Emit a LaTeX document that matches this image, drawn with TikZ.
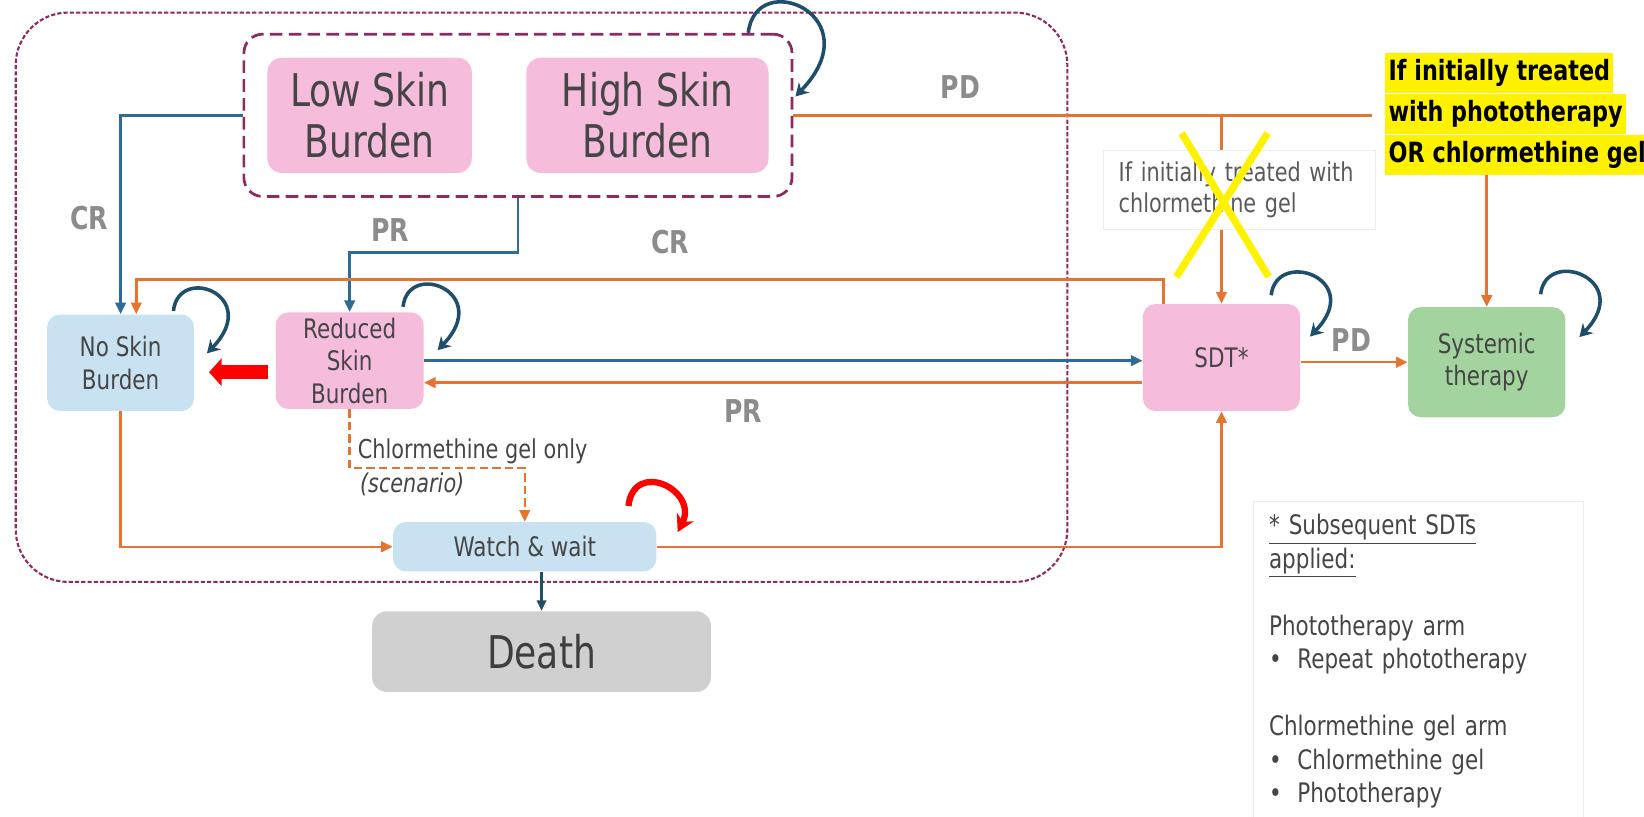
\documentclass[tikz,border=0pt]{standalone}
\usepackage{fontspec}
\setmainfont{DejaVu Sans}[FakeStretch = 0.8]
\usepackage{tikz}
\usetikzlibrary{arrows.meta}
\usetikzlibrary{positioning, fit, calc}
\definecolor{burdenpink}{HTML}{F6BCDB}
\definecolor{noburdenblue}{HTML}{C9E2F1}
\definecolor{systemicgreen}{HTML}{A3D49F}
\definecolor{deathgrey}{HTML}{D0D0D0}
\definecolor{crblue}{HTML}{2D6B98}
\definecolor{loopblue}{HTML}{1F4E6B}
\definecolor{pdorange}{HTML}{E8732E}
\definecolor{boxtext}{HTML}{454545}
\definecolor{labelgrey}{HTML}{8C8C8C}
\definecolor{framemagenta}{HTML}{8E2A5F}
\definecolor{notegrey}{HTML}{5A5A5A}
\definecolor{faintline}{HTML}{EEEEEE}
\tikzset{
state box/.style = { rectangle, rounded corners = 6pt, text = boxtext, align = center, inner sep = 1pt, font = \fontsize{12.8pt}{15.5pt}\selectfont },
big state/.style = { state box, rounded corners = 7pt, font = \fontsize{21.5pt}{24.5pt}\selectfont },
flow/.style = { draw = pdorange, line width = 1.2pt, -{Triangle[length = 5.5pt, width = 5pt]} },
resp/.style = { draw = crblue, line width = 1.2pt, -{Triangle[length = 5.5pt, width = 5pt]} },
self loop/.style = { draw = loopblue, line width = 1.7pt, -{Stealth[length = 6pt, width = 7pt]} },
red loop/.style = { draw = red, line width = 3pt, -{Stealth[length = 8pt, width = 9pt]} },
red arrow/.style = { draw = red, line width = 6.5pt, -{Triangle[length = 6pt, width = 13pt]} },
death arrow/.style = { draw = loopblue, line width = 1pt, -{Triangle[length = 5pt, width = 4.5pt]} },
tr label/.style = { text = labelgrey, font = \bfseries\fontsize{15pt}{18pt}\selectfont },
hilite/.style = { fill = yellow, inner xsep = 1.5pt, inner ysep = 0pt, minimum height = 19pt, text height = 10pt, text depth = 3pt, font = \bfseries\fontsize{13.3pt}{16pt}\selectfont },
note box/.style = { fill = white, draw = faintline, minimum width = 130pt, minimum height = 38pt, text width = 115pt, align = left, inner xsep = 7.5pt, text = notegrey, font = \fontsize{12.4pt}{15pt}\selectfont },
legend box/.style = { draw = faintline, text width = 142.5pt, align = left, inner xsep = 7.5pt, inner ysep = 6pt, minimum height = 151pt, text = boxtext, font = \fontsize{12.8pt}{16pt}\selectfont },
}

\begin{document}
\begin{tikzpicture}[x = 0.5pt, y = -0.5pt]
      \useasboundingbox (0, 0) rectangle (1568, 779);
      % model frame
      \draw[framemagenta, line width = 1pt, dash pattern = on 2pt off 1pt, rounded corners = 25pt] (15, 12) rectangle (1018, 555);
      % states
      \node[big state, fill = burdenpink, minimum width = 97.5pt, minimum height = 55pt] (low) at (352.5, 110) {Low Skin\\Burden};
      \node[big state, fill = burdenpink, minimum width = 115.5pt, minimum height = 55pt] (high) at (617.5, 110) {High Skin\\Burden};
      \node[draw = framemagenta, line width = 1.3pt, dash pattern = on 6pt off 3pt, rounded corners = 9pt, inner sep = 11pt, fit = (low) (high)] (group) {};
      \node[state box, fill = noburdenblue, minimum width = 70pt, minimum height = 46pt] (noskin) at (115, 346) {No Skin\\Burden};
      \node[state box, fill = burdenpink, minimum width = 70.5pt, minimum height = 46pt] (reduced) at (333.5, 344) {Reduced\\Skin\\Burden};
      \node[state box, fill = burdenpink, minimum width = 75pt, minimum height = 51pt] (sdt) at (1165, 341) {SDT*};
      \node[state box, fill = systemicgreen, minimum width = 75pt, minimum height = 52.5pt] (systemic) at (1418, 345.5) {Systemic\\therapy};
      \node[state box, fill = noburdenblue, minimum width = 125.5pt, minimum height = 23.5pt] (watch) at (500.5, 521.5) {Watch \& wait};
      \node[big state, fill = deathgrey, text = boxtext!90!black, minimum width = 161.5pt, minimum height = 38.5pt] (death) at (516.5, 621.5) {Death};
      % yellow condition
      \node[hilite, anchor = west] (ytext1) at (1321, 70) {If initially treated};
      \node[hilite, below = 0pt of ytext1.south west, anchor = north west] (ytext2) {with phototherapy};
      \node[hilite, below = 0pt of ytext2.south west, anchor = north west] (ytext3) {OR chlormethine gel};
      % self loops
      \draw[self loop] ([xshift = -21.5pt]group.north east) .. controls +(7, -63) and +(74, -77) .. ([xshift = 1pt, yshift = 9pt]group.east);
      \draw[self loop] ([xshift = -10pt, yshift = 1.5pt]noskin.north east) .. controls +(5, -45) and +(53, -55) .. ([xshift = 6pt, yshift = 4.5pt]noskin.east);
      \draw[self loop] ([xshift = -10pt, yshift = 2.5pt]reduced.north east) .. controls +(5, -45) and +(53, -55) .. ([xshift = 6.5pt, yshift = 5pt]reduced.east);
      \draw[self loop] ([xshift = -14pt, yshift = 4pt]sdt.north east) .. controls +(5, -45) and +(53, -55) .. ([xshift = 4.5pt, yshift = 10pt]sdt.east);
      \draw[self loop] ([xshift = -12pt, yshift = 6pt]systemic.north east) .. controls +(5, -45) and +(53, -55) .. ([xshift = 6.5pt, yshift = 12pt]systemic.east);
      \draw[red loop] ([xshift = -13.5pt, yshift = 7.5pt]watch.north east) .. controls +(5, -45) and +(20, -40) .. ([xshift = 10pt, yshift = 7pt]watch.east);
      % transitions
      \draw[resp] (group.west) -| (noskin.north);
      \draw[resp] (group.south) -- ++(0, 52) -| (reduced.north);
      \draw[flow] ([xshift = 10pt]sdt.north west) -- ++(0, -23) -| ([xshift = 7.5pt]noskin.north);
      \draw[resp] (reduced.east) -- (reduced.east -| sdt.west);
      \coordinate (pr back) at ([yshift = -12pt]sdt.west);
      \draw[flow] (pr back) -- (pr back -| reduced.east);
      \draw[flow] (systemic.west -| sdt.east) -- (systemic.west);
      \draw[flow] (noskin.south) |- (watch.west);
      \draw[flow, dash pattern = on 4pt off 2pt] (reduced.south) -- ++(0, 56) -| (watch.north);
      \draw[flow] (watch.east) -| (sdt.south);
      \draw[death arrow] (watch.south -| death.north) -- (death.north);
      \draw[red arrow] ($(reduced.west) + (-7, 11)$) -- ($(reduced.west -| noskin.east) + (14, 11)$);
      \draw[pdorange, line width = 1.2pt, shorten > = 6pt] (group.east) -- (group.east -| ytext2.west);
      \draw[flow] (sdt.north |- group.east) -- (sdt.north);
      \draw[flow] (systemic.north |- ytext3.south) -- (systemic.north);
      % crossed-out note
      \node[note box] (note) at (1182, 181) {If initially treated with\\chlormethine gel};
      \draw[yellow, line width = 3.5pt] (1127, 127) -- (1210, 264) (1209, 127) -- (1122, 264);
      % labels
      \node[tr label] (cr left) at (85, 208) {CR};
      \node[tr label] (pr top) at (372, 219) {PR};
      \node[tr label] (cr mid) at (639, 231) {CR};
      \node[tr label] (pr bottom) at (709, 392) {PR};
      \node[tr label] (pd top) at (916, 83) {PD};
      \node[tr label] (pd right) at (1289, 324) {PD};
      \node[anchor = west, text = boxtext, inner sep = 1pt, font = \fontsize{12.4pt}{15pt}\selectfont] (gel only) at (339, 430) {Chlormethine gel only};
      \node[anchor = west, text = boxtext, inner sep = 1pt, font = \itshape\fontsize{12.4pt}{15pt}\selectfont] (scenario) at (341, 462) {(scenario)};
      % legend
      \node[legend box, anchor = north west] (legend) at (1195, 478) {\underline{* Subsequent SDTs}\\\underline{applied:}\\[16pt]Phototherapy arm\\\makebox[13.5pt][l]{\textbullet}Repeat phototherapy\\[16pt]Chlormethine gel arm\\\makebox[13.5pt][l]{\textbullet}Chlormethine gel\\\makebox[13.5pt][l]{\textbullet}Phototherapy};
    \end{tikzpicture}
\end{document}
